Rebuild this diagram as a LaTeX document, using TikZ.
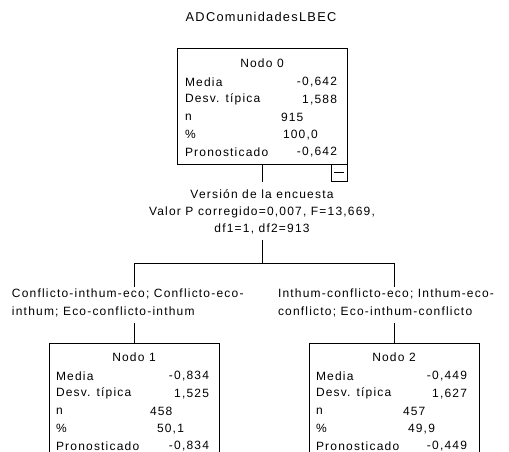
\documentclass[tikz,border=0pt]{standalone}
\usepackage{fontspec}
\setmainfont{Liberation Sans}[LetterSpace=10]
\begin{document}
\begin{tikzpicture}[x=0.75pt,y=-0.75pt,
  every node/.style={inner sep=0pt,outer sep=0pt},
  txt/.style={font=\fontsize{9pt}{13pt}\selectfont},
  ttl/.style={font=\fontsize{9.6pt}{11pt}\selectfont},
  box/.style={draw,line width=0.75pt,minimum width=127.5pt},
  conn/.style={line width=0.75pt},
  lab/.style={txt,anchor=west},
  val/.style={txt,anchor=east},
  lval/.style={txt,anchor=west},
  split/.style={txt,align=center,font=\fontsize{9pt}{12.75pt}\selectfont},
  branch/.style={txt,align=left,anchor=north west,font=\fontsize{9pt}{13.5pt}\selectfont}]
\useasboundingbox (0,0) rectangle (509,452);
\fill[white] (0,0) rectangle (509,452);

\node[ttl] (title) at (261,17) {ADComunidadesLBEC};

% Node 0
\node[box,minimum height=87pt] (box0) at (262,107) {};
\node[txt] (t0) at (262,63) {Nodo 0};
\node[lab] (m0l) at (185,82) {Media};
\node[val] (m0v) at (337,82) {-0,642};
\node[lab] (d0l) at (185,99.6) {Desv. típica};
\node[val] (d0v) at (337,99.6) {1,588};
\node[lab] (n0l) at (185,117.2) {n};
\node[lval] (n0v) at (281,117.2) {915};
\node[lab] (p0l) at (185,134.8) {\%};
\node[lval] (p0v) at (283,134.8) {100,0};
\node[lab] (r0l) at (185,152.4) {Pronosticado};
\node[val] (r0v) at (337,152.4) {-0,642};
\node[draw,line width=0.75pt,minimum width=12pt,minimum height=12pt,anchor=north east] (col0) at (box0.south east) {};
\draw[line width=0.75pt] ([xshift=-3.5pt]col0.center) -- ([xshift=3.5pt]col0.center);

% split text
\coordinate (s0) at (262,182);
\draw[conn] (box0.south) -- (s0);
\node[split] (split) at (262,212) {Versión de la encuesta\\Valor P corregido=0,007, F=13,669,\\df1=1, df2=913};
\coordinate (s1) at (262,240);
\coordinate (j0) at (262,263);
\coordinate (jl) at (134,263);
\coordinate (jr) at (394,263);
\draw[conn] (s1) -- (j0);
\draw[conn] (jl) -- (jr);

% branch labels
\coordinate (bl) at (134,287);
\coordinate (br) at (394,287);
\draw[conn] (jl) -- (bl);
\draw[conn] (jr) -- (br);
\node[branch] (lab1) at (12,289) {Conflicto-inthum-eco; Conflicto-eco-\\inthum; Eco-conflicto-inthum};
\node[branch] (lab2) at (278,289) {Inthum-conflicto-eco; Inthum-eco-\\conflicto; Eco-inthum-conflicto};
\coordinate (cl) at (134,323);
\coordinate (cr) at (394,323);

% Node 1
\node[box,minimum height=90pt] (box1) at (134,403) {};
\draw[conn] (cl) -- (box1.north);
\node[txt] (t1) at (134,357) {Nodo 1};
\node[lab] (m1l) at (56,376) {Media};
\node[val] (m1v) at (209,376) {-0,834};
\node[lab] (d1l) at (56,393.6) {Desv. típica};
\node[val] (d1v) at (209,393.6) {1,525};
\node[lab] (n1l) at (56,411.2) {n};
\node[lval] (n1v) at (150,411.2) {458};
\node[lab] (p1l) at (56,428.8) {\%};
\node[lval] (p1v) at (157,428.8) {50,1};
\node[lab] (r1l) at (56,446.4) {Pronosticado};
\node[val] (r1v) at (209,446.4) {-0,834};

% Node 2
\node[box,minimum height=90pt] (box2) at (394,403) {};
\draw[conn] (cr) -- (box2.north);
\node[txt] (t2) at (394,357) {Nodo 2};
\node[lab] (m2l) at (316,376) {Media};
\node[val] (m2v) at (467,376) {-0,449};
\node[lab] (d2l) at (316,393.6) {Desv. típica};
\node[val] (d2v) at (467,393.6) {1,627};
\node[lab] (n2l) at (316,411.2) {n};
\node[lval] (n2v) at (403,411.2) {457};
\node[lab] (p2l) at (316,428.8) {\%};
\node[lval] (p2v) at (408,428.8) {49,9};
\node[lab] (r2l) at (316,446.4) {Pronosticado};
\node[val] (r2v) at (467,446.4) {-0,449};
\end{tikzpicture}
\end{document}
